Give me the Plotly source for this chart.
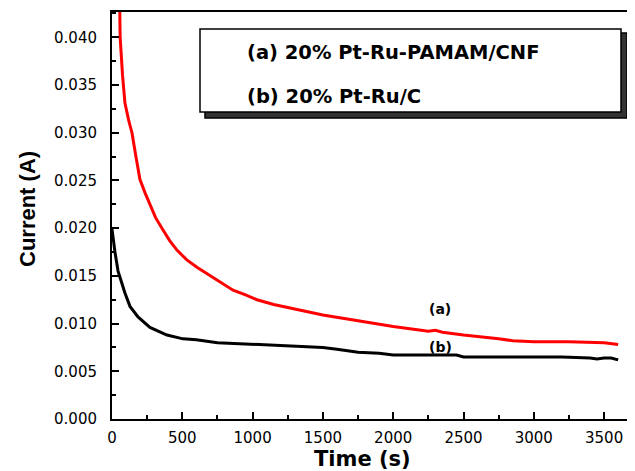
import plotly.graph_objects as go

# ---- data ----
time_a = [55, 58, 75, 92, 120, 142, 170, 199, 235, 270, 310, 363, 410, 462, 530, 604,
          680, 747, 800, 861, 950, 1031, 1150, 1245, 1400, 1500, 1750, 2000, 2250, 2300,
          2350, 2500, 2750, 2850, 3000, 3250, 3500, 3600]
current_a = [0.0430, 0.0400, 0.0360, 0.0331, 0.0312, 0.0300, 0.0275, 0.0251, 0.0237,
             0.0225, 0.0211, 0.0198, 0.0187, 0.0177, 0.0167, 0.0159, 0.0152, 0.0146,
             0.0141, 0.0135, 0.0130, 0.0125, 0.0120, 0.0117, 0.0112, 0.0109, 0.0103, 0.0097,
             0.0092, 0.0093, 0.0091, 0.0088, 0.0084, 0.0082, 0.0081, 0.0081, 0.0080, 0.0078]

time_b = [0, 10, 21, 43, 71, 92, 128, 185, 270, 391, 505, 600, 750, 900, 1000, 1200, 1400, 1500,
          1600, 1750, 1900, 2000, 2250, 2450, 2500, 3000, 3200, 3400, 3450, 3500, 3550, 3600]
current_b = [0.0199, 0.0185, 0.0175, 0.0155, 0.0142, 0.0132, 0.0118, 0.0107, 0.0096, 0.0088,
             0.0084, 0.0083, 0.0080, 0.0079, 0.0079, 0.0077, 0.0076, 0.0075, 0.0073, 0.0070,
             0.0069, 0.0067, 0.0067, 0.0067, 0.0065, 0.0065, 0.0065, 0.0064, 0.0063, 0.0064,
             0.0064, 0.0062]

legend_lines = ["(a) 20% Pt-Ru-PAMAM/CNF", "(b) 20% Pt-Ru/C"]
curve_labels = ["(a)", "(b)"]
label_pos_t = [2333, 2333]
label_pos_i = [0.0115, 0.0075]

FONT_W = "DejaVu Sans, Verdana, sans-serif"
FONT_V = "Liberation Sans, Arial, Helvetica, sans-serif"

OFF = 8  # default page margin around the plot div
W, H = 635 - OFF, 471 - OFF
L, R, T, B = 112 - OFF, 0, 12 - OFF, 52
PW, PH = W - L - R, H - T - B


def px(sx):
    return (sx - OFF - L) / PW


def py(sy):
    return (H - B - (sy - OFF)) / PH


fig = go.Figure()
fig.add_trace(go.Scatter(x=time_a, y=current_a, mode="lines",
                         line=dict(color="#ff0000", width=3), showlegend=False))
fig.add_trace(go.Scatter(x=time_b, y=current_b, mode="lines",
                         line=dict(color="#000000", width=3), showlegend=False))

# legend box with drop shadow
fig.add_shape(type="rect", xref="paper", yref="paper",
              x0=px(205), x1=px(627), y0=py(118), y1=py(33),
              fillcolor="#333333", line=dict(color="black", width=1.5), layer="above")
fig.add_shape(type="rect", xref="paper", yref="paper",
              x0=px(200), x1=px(621), y0=py(112), y1=py(29),
              fillcolor="white", line=dict(color="black", width=1.5), layer="above")

for txt, yy in zip(legend_lines, [52, 96]):
    fig.add_annotation(text="<b>%s</b>" % txt, xref="paper", yref="paper",
                       x=px(245), y=py(yy), xanchor="left", yanchor="middle",
                       showarrow=False, font=dict(family=FONT_W, size=19.5, color="black"))

for txt, t, i in zip(curve_labels, label_pos_t, label_pos_i):
    fig.add_annotation(text="<b>%s</b>" % txt, x=t, y=i, xref="x", yref="y",
                       showarrow=False, font=dict(family=FONT_W, size=14, color="black"))

# axis titles
fig.add_annotation(text="<b>Time (s)</b>", xref="paper", yref="paper",
                   x=px(362), y=py(459), xanchor="center", yanchor="middle",
                   showarrow=False, font=dict(family=FONT_W, size=21, color="black"))
fig.add_annotation(text="<b>Current (A)</b>", xref="paper", yref="paper",
                   x=px(28), y=py(209), xanchor="center", yanchor="middle",
                   textangle=-90, showarrow=False,
                   font=dict(family=FONT_V, size=22, color="black"))

fig.update_layout(
    width=W, height=H,
    margin=dict(l=L, r=R, t=T, b=B, pad=0),
    paper_bgcolor="white", plot_bgcolor="white",
    font=dict(family=FONT_W, size=15, color="black"),
    xaxis=dict(range=[0, PW / 70.3 * 500], dtick=500, tick0=0,
               showgrid=False, zeroline=False,
               showline=True, linecolor="black", linewidth=2, mirror=True,
               ticks="inside", ticklen=7, tickwidth=1.5, tickcolor="black",
               minor=dict(dtick=250, ticks="inside", ticklen=4, tickwidth=1.5,
                          tickcolor="black", showgrid=False),
               ticklabelstandoff=4,
               tickfont=dict(family=FONT_W, size=15, color="black")),
    yaxis=dict(range=[0, 0.04265], dtick=0.005, tick0=0, tickformat=".3f",
               showgrid=False, zeroline=False,
               showline=True, linecolor="black", linewidth=2, mirror=False,
               ticks="inside", ticklen=7, tickwidth=1.5, tickcolor="black",
               minor=dict(dtick=0.0025, ticks="inside", ticklen=4, tickwidth=1.5,
                          tickcolor="black", showgrid=False),
               ticklabelstandoff=10,
               tickfont=dict(family=FONT_W, size=15, color="black")),
)

fig.write_html("out.html")
